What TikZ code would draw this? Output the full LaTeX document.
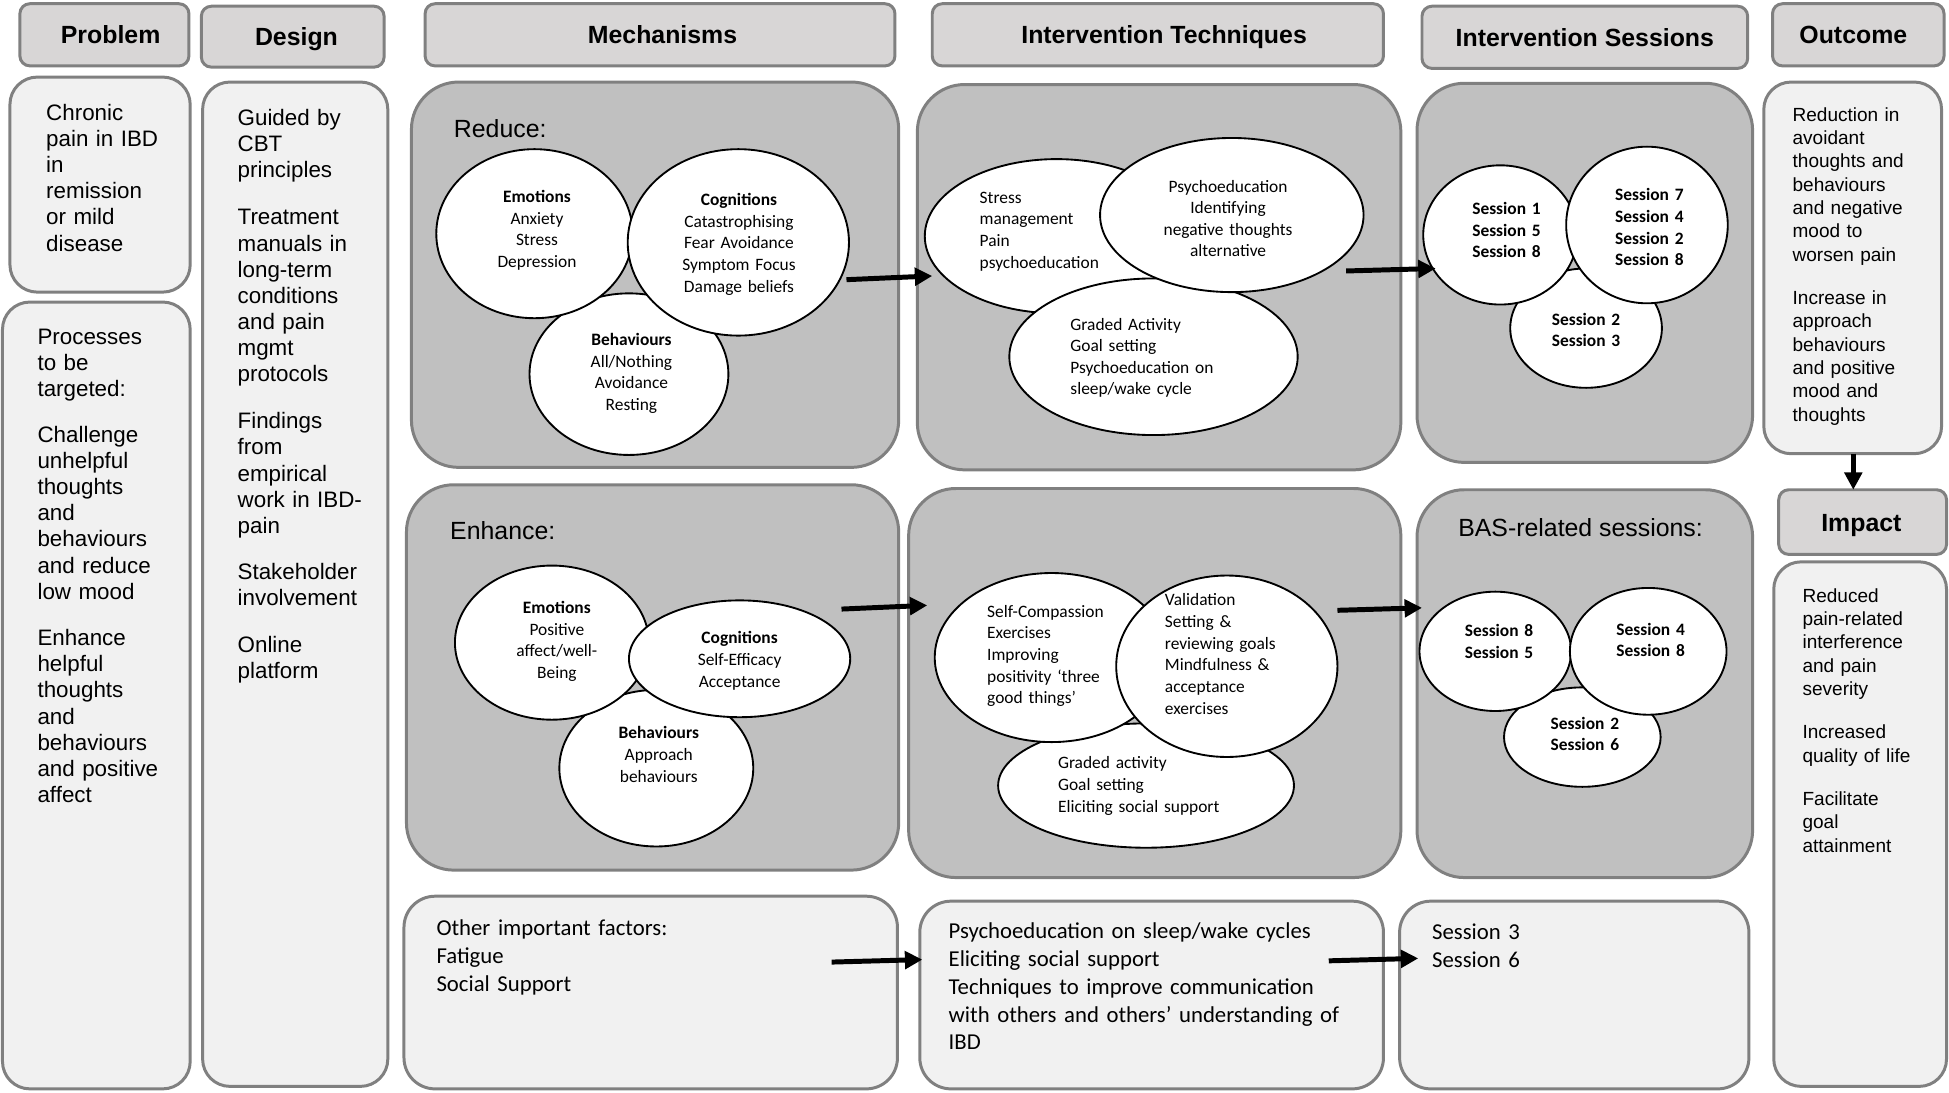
\documentclass[tikz,border=0pt]{standalone}
\usepackage{fontspec}
\usetikzlibrary{shapes.geometric,arrows.meta}
\newfontfamily\arialf{Liberation Sans}
\newfontfamily\calib{Carlito}
\definecolor{hdrfill}{RGB}{216,214,214}
\definecolor{lightfill}{RGB}{241,241,241}
\definecolor{darkfill}{RGB}{192,192,192}
\definecolor{bordergray}{RGB}{128,128,128}
\tikzset{
  hdr/.style={draw=bordergray, line width=2.4pt, fill=hdrfill, rounded corners=8pt, inner sep=0pt,
    font=\fontsize{20}{24}\selectfont\arialf\bfseries, text height=14.4pt, text depth=0pt},
  lbox/.style={draw=bordergray, line width=2.4pt, fill=lightfill, rounded corners=22pt, inner sep=0pt},
  dbox/.style={draw=bordergray, line width=2.4pt, fill=darkfill, rounded corners=38pt, inner sep=0pt},
  ellnode/.style={ellipse, draw=black, line width=1.5pt, fill=white, inner sep=0pt},
  ltext/.style={anchor=base west, text width=#1, align=left, inner sep=0pt},
  ctext/.style={anchor=base, text width=#1, align=center, inner sep=0pt},
  sidetxt/.style={font=\fontsize{18}{21}\selectfont\arialf},
  outtxt/.style={font=\fontsize{15.3}{18.75}\selectfont\arialf},
  elltxt/.style={font=\fontsize{14}{17.4}\selectfont\calib},
  sesstxt/.style={font=\fontsize{14}{17.4}\selectfont\calib\bfseries},
  bottxt/.style={font=\fontsize{18.3}{22.4}\selectfont\calib},
  lbltxt/.style={font=\fontsize{20}{24}\selectfont\arialf, anchor=base west, inner sep=0pt},
  arr/.style={line width=4pt, -{Triangle[length=14pt,width=14pt]}}
}
\newcommand\mybox[7]{\node[#2, minimum width={#5-#3}, minimum height={#6-#4}] (#1) at ({(#3+#5)/2},{(#4+#6)/2}) {#7};}
\newcommand\myell[5]{\node[ellnode, minimum width={2*#4}, minimum height={2*#5}] (#1) at (#2,#3) {};}
\begin{document}
\begin{tikzpicture}[x=1pt,y=-1pt]
\useasboundingbox (0,0) rectangle (1568,879);
\fill[white] (0,0) rectangle (1568,879);

% headers
\mybox{hProb}{hdr}{16}{3}{152}{53}{\hspace*{10pt}Problem}
\mybox{hDes}{hdr}{162}{5}{309}{54}{\hspace*{6pt}Design}
\mybox{hMech}{hdr}{342}{3}{720}{53}{\hspace*{4pt}Mechanisms}
\mybox{hTech}{hdr}{750}{3}{1113}{53}{\hspace*{10pt}Intervention Techniques}
\mybox{hSess}{hdr}{1144}{5}{1406}{55}{Intervention Sessions}
\mybox{hOut}{hdr}{1426}{3}{1564}{53}{Outcome\hspace*{8pt}}
\mybox{hImp}{hdr}{1431}{394}{1566}{446}{Impact\hspace*{2pt}}

% light boxes
\mybox{bProbA}{lbox}{8}{62}{153}{235}{}
\mybox{bProbB}{lbox}{2}{243}{153}{876}{}
\mybox{bDes}{lbox}{163}{66}{312}{874}{}
\mybox{bOut}{lbox}{1419}{66}{1562}{365}{}
\mybox{bImp}{lbox}{1427}{452}{1566}{874}{}
\mybox{bOther}{lbox, rounded corners=25pt}{325}{721}{722}{876}{}
\mybox{bPsy}{lbox, rounded corners=25pt}{740}{725}{1113}{876}{}
\mybox{bSes}{lbox, rounded corners=25pt}{1126}{725}{1407}{876}{}

% dark boxes
\mybox{dRedM}{dbox}{331}{66}{723}{376}{}
\mybox{dRedT}{dbox}{738}{68}{1127}{378}{}
\mybox{dRedS}{dbox}{1140}{67}{1410}{372}{}
\mybox{dEnhM}{dbox}{327}{390}{723}{700}{}
\mybox{dEnhT}{dbox}{731}{393}{1127}{706}{}
\mybox{dBAS}{dbox}{1140}{394}{1410}{706}{}

% side texts
\node[sidetxt, ltext=140pt] (tProbA) at (37,97) {Chronic\\pain in IBD\\in\\remission\\or mild\\disease};
\node[sidetxt, ltext=140pt] (tProbB) at (30,277) {Processes\\to be\\targeted:\\[16pt]Challenge\\unhelpful\\thoughts\\and\\behaviours\\and reduce\\low mood\\[16.5pt]Enhance\\helpful\\thoughts\\and\\behaviours\\and positive\\affect};
\node[sidetxt, ltext=140pt] (tDes) at (191,101) {Guided by\\CBT\\principles\\[17pt]Treatment\\manuals in\\long-term\\conditions\\and pain\\mgmt\\protocols\\[17pt]Findings\\from\\empirical\\work in IBD-\\pain\\[16pt]Stakeholder\\involvement\\[17pt]Online\\platform};
\node[outtxt, ltext=130pt] (tOut) at (1442,97.5) {Reduction in\\avoidant\\thoughts and\\behaviours\\and negative\\mood to\\worsen pain\\[16.2pt]Increase in\\approach\\behaviours\\and positive\\mood and\\thoughts};
\node[outtxt, ltext=130pt] (tImp) at (1450,484.4) {Reduced\\pain-related\\interference\\and pain\\severity\\[16.2pt]Increased\\quality of life\\[16.2pt]Facilitate\\goal\\attainment};

% labels
\node[lbltxt] (lRed) at (365,111) {Reduce:};
\node[lbltxt] (lEnh) at (362,434) {Enhance:};
\node[lbltxt] (lBAS) at (1173,432) {BAS-related sessions:};

% Reduce mechanisms
\myell{remB}{506}{301}{80}{65}
\myell{remE}{430}{188}{79}{68}
\myell{remC}{594}{195}{89}{75}
\node[elltxt, ctext=140pt] (tRemE) at (432,163) {\textbf{Emotions}\\Anxiety\\Stress\\Depression};
\node[elltxt, ctext=140pt] (tRemC) at (594.5,165.5) {\textbf{Cognitions}\\Catastrophising\\Fear Avoidance\\Symptom Focus\\Damage beliefs};
\node[elltxt, ctext=140pt] (tRemB) at (508,278) {\textbf{Behaviours}\\All/Nothing\\Avoidance\\Resting};

% Reduce techniques
\myell{rtS}{850}{190}{106}{62}
\myell{rtG}{928}{287}{116}{63}
\myell{rtP}{991}{173}{106}{62}
\node[elltxt, ltext=140pt] (tRtS) at (788,163.5) {Stress\\management\\Pain\\psychoeducation};
\node[elltxt, ctext=160pt] (tRtP) at (988,154.5) {Psychoeducation\\Identifying\\negative thoughts\\alternative};
\node[elltxt, ltext=160pt] (tRtG) at (861,265.5) {Graded Activity\\Goal setting\\Psychoeducation on\\sleep/wake cycle};

% Reduce sessions
\myell{sTT}{1276}{264}{61}{48}
\myell{sOF}{1207}{189}{62}{56}
\myell{sSF}{1325}{181}{65}{63}
\node[sesstxt, ctext=100pt] (tSOF) at (1212,172.5) {Session 1\\Session 5\\Session 8};
\node[sesstxt, ctext=100pt] (tSSF) at (1327,161.5) {Session 7\\Session 4\\Session 2\\Session 8};
\node[sesstxt, ctext=100pt] (tSTT) at (1276,261.5) {Session 2\\Session 3};

% Enhance mechanisms
\myell{emB}{528}{618}{78}{63}
\myell{emE}{444}{517}{78}{62}
\myell{emC}{595}{530}{89}{47}
\node[elltxt, ctext=140pt] (tEmE) at (448,493.5) {\textbf{Emotions}\\Positive\\affect/well-\\Being};
\node[elltxt, ctext=140pt] (tEmC) at (595,518) {\textbf{Cognitions}\\Self-Efficacy\\Acceptance};
\node[elltxt, ctext=140pt] (tEmB) at (530,594.5) {\textbf{Behaviours}\\Approach\\behaviours};

% Enhance techniques
\myell{etG}{922}{632}{119}{50}
\myell{etS}{846}{529}{94}{68}
\myell{etV}{987}{536}{89}{73}
\node[elltxt, ltext=150pt] (tEtS) at (794,496.5) {Self-Compassion\\Exercises\\Improving\\positivity ‘three\\good things’};
\node[elltxt, ltext=150pt] (tEtV) at (937,487.5) {Validation\\Setting \&\\reviewing goals\\Mindfulness \&\\acceptance\\exercises};
\node[elltxt, ltext=170pt] (tEtG) at (851,618.5) {Graded activity\\Goal setting\\Eliciting social support};

% BAS sessions
\myell{bTS}{1273}{593}{63}{40}
\myell{bEF}{1203}{524}{61}{48}
\myell{bFE}{1326}{524}{63}{51}
\node[sesstxt, ctext=100pt] (tBEF) at (1206,512) {Session 8\\Session 5};
\node[sesstxt, ctext=100pt] (tBFE) at (1328,511) {Session 4\\Session 8};
\node[sesstxt, ctext=100pt] (tBTS) at (1275,586.5) {Session 2\\Session 6};

% bottom texts
\node[bottxt, ltext=360pt] (tOther) at (351,752.8) {Other important factors:\\Fatigue\\Social Support};
\node[bottxt, ltext=360pt] (tPsy) at (763,755) {Psychoeducation on sleep/wake cycles\\Eliciting social support\\Techniques to improve communication\\with others and others’ understanding of\\IBD};
\node[bottxt, ltext=200pt] (tSes) at (1152,756) {Session 3\\Session 6};

% arrows
\coordinate (a1s) at (681,225); \coordinate (a1e) at (750,222);
\coordinate (a2s) at (1083,218); \coordinate (a2e) at (1155,216);
\coordinate (a3s) at (677,490); \coordinate (a3e) at (746,487);
\coordinate (a4s) at (1076,491); \coordinate (a4e) at (1144,489);
\coordinate (a5s) at (669,774); \coordinate (a5e) at (742,772);
\coordinate (a6s) at (1069,773); \coordinate (a6e) at (1141,771);
\coordinate (a7s) at (1491,365); \coordinate (a7e) at (1491,394);
\draw[arr] (a1s) -- (a1e);
\draw[arr] (a2s) -- (a2e);
\draw[arr] (a3s) -- (a3e);
\draw[arr] (a4s) -- (a4e);
\draw[arr] (a5s) -- (a5e);
\draw[arr] (a6s) -- (a6e);
\draw[arr] (a7s) -- (a7e);
\end{tikzpicture}
\end{document}
